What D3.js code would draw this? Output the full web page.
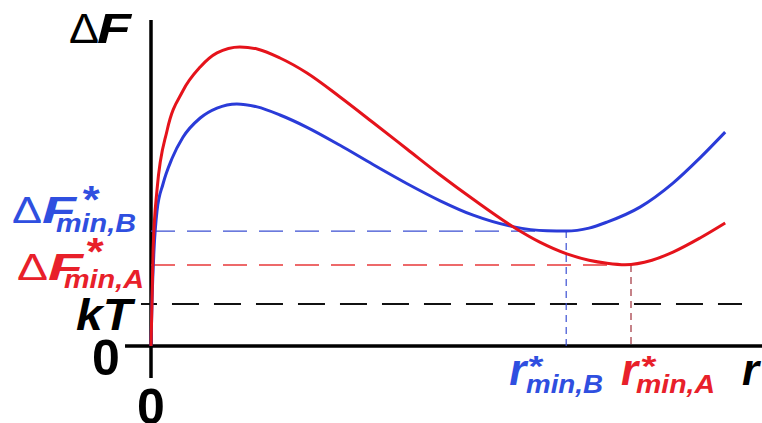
<!DOCTYPE html>
<html>
<head>
<meta charset="utf-8">
<script src="https://cdn.jsdelivr.net/npm/d3@7"></script>
<style>
  html, body { margin: 0; padding: 0; background: #fff; }
  svg { display: block; }
</style>
</head>
<body>
<svg id="chart" width="762" height="423"></svg>
<script>
// ---- data (arbitrary units) ----
const rA = [0, 0.17, 0.35, 1, 2.7, 5.3, 8.2, 11, 14.8, 17.7, 21.5, 26, 31.5, 37, 42.7, 48.2, 53.7, 61, 64.8, 69.3, 73, 76, 79, 83.5, 87, 91.5, 95.7];
const fA = [0, 15, 32, 52, 72, 85, 93, 97.7, 99.7, 99, 96, 91, 83, 74.5, 65.6, 57.0, 48.9, 38.9, 34.6, 30.7, 28.6, 27.6, 27.1, 28.6, 31.3, 36, 41];
const rB = [0, 0.17, 0.5, 1, 2, 3.5, 5.3, 8.2, 11, 14.3, 17.7, 21.5, 26, 31.5, 37, 42.7, 48.2, 53.7, 60.3, 66, 69.2, 73, 76, 81.5, 87, 91.5, 95.7];
const fB = [0, 15, 32, 45, 54, 62.5, 69.5, 76, 79.3, 80.7, 79.7, 77, 72.9, 66.9, 60.5, 54.1, 48.4, 43.6, 39.8, 38.4, 38.3, 39.3, 41.3, 46.3, 54.3, 62.7, 71.3];
const kT = 14;
const minA = 27.0, rMinA = 80;
const minB = 38.3, rMinB = 69.2;
const yTickLabels = ["0", "kT"];
const xTickLabels = ["0"];

const red = "#e5131b", blue = "#2a3bd8";
const redLbl = "#e8202a", blueLbl = "#2f4fe0";

const svg = d3.select("#chart");
svg.append("rect").attr("width", 762).attr("height", 423).attr("fill", "#fff");

const x = d3.scaleLinear().domain([0, 100]).range([151, 751]);
const y = d3.scaleLinear().domain([0, 100]).range([346, 46]);

// axes
svg.append("line").attr("x1", x(-4.33)).attr("x2", 762).attr("y1", y(0)).attr("y2", y(0))
  .attr("stroke", "#000").attr("stroke-width", 3.5);
svg.append("line").attr("x1", x(0)).attr("x2", x(0)).attr("y1", y(-10.7)).attr("y2", y(108.7))
  .attr("stroke", "#000").attr("stroke-width", 3.5);

// dashed reference lines
svg.append("line").attr("x1", x(-1.67)).attr("x2", x(98.5)).attr("y1", y(kT)).attr("y2", y(kT))
  .attr("stroke", "#111").attr("stroke-width", 2).attr("stroke-dasharray", "27,15").attr("stroke-dashoffset", 11);
svg.append("line").attr("x1", x(0)).attr("x2", x(rMinB)).attr("y1", y(minB)).attr("y2", y(minB))
  .attr("stroke", "#3b4fd2").attr("stroke-width", 1.4).attr("stroke-dasharray", "24,12");
svg.append("line").attr("x1", x(0)).attr("x2", x(rMinA)).attr("y1", y(minA)).attr("y2", y(minA))
  .attr("stroke", "#e8383a").attr("stroke-width", 1.4).attr("stroke-dasharray", "24,12");
svg.append("line").attr("x1", x(rMinB)).attr("x2", x(rMinB)).attr("y1", y(minB)).attr("y2", y(0))
  .attr("stroke", "#3b4fd2").attr("stroke-width", 1.2).attr("stroke-dasharray", "7,5");
svg.append("line").attr("x1", x(rMinA)).attr("x2", x(rMinA)).attr("y1", y(minA)).attr("y2", y(0))
  .attr("stroke", "#a0303a").attr("stroke-width", 1.2).attr("stroke-dasharray", "7,5");

// curves
const line = d3.line().x(d => x(d[0])).y(d => y(d[1])).curve(d3.curveMonotoneX);
svg.append("path").datum(d3.zip(rB, fB)).attr("d", line)
  .attr("fill", "none").attr("stroke", blue).attr("stroke-width", 3);
svg.append("path").datum(d3.zip(rA, fA)).attr("d", line)
  .attr("fill", "none").attr("stroke", red).attr("stroke-width", 3);

// text helper
const FF = "'Liberation Sans', Arial, sans-serif";
function txt(t, px, py, opts) {
  const o = Object.assign({size: 40, weight: "bold", style: "italic", fill: "#000", anchor: "start"}, opts || {});
  const el = svg.append("text").attr("x", px).attr("y", py).text(t)
    .attr("font-family", FF).attr("font-size", o.size).attr("font-weight", o.weight)
    .attr("font-style", o.style).attr("fill", o.fill).attr("text-anchor", o.anchor);
  if (o.len) el.attr("textLength", o.len).attr("lengthAdjust", "spacingAndGlyphs");
  return el;
}

// axis title ΔF
txt("Δ", 69, 43, {size: 42, weight: "normal", style: "normal", len: 30});
txt("F", 97, 43, {size: 42, len: 34});

// y tick labels
txt(yTickLabels[0], 106, 375, {size: 50, style: "normal", anchor: "middle"});
txt(yTickLabels[1], 76, 330, {size: 44, len: 56});
// x tick label
txt(xTickLabels[0], x(0), 424, {size: 50, style: "normal", anchor: "middle"});

// ΔF*min,B
txt("Δ", 12, 223, {size: 36, weight: "normal", style: "normal", fill: blueLbl, len: 30});
txt("F", 42, 223, {size: 36, fill: blueLbl, len: 34});
txt("*", 81, 213, {size: 38, fill: blueLbl, len: 17});
txt("min,B", 56, 232, {size: 26, fill: blueLbl, len: 80});

// ΔF*min,A
txt("Δ", 17, 280, {size: 37, weight: "normal", style: "normal", fill: redLbl, len: 31});
txt("F", 48, 280, {size: 37, fill: redLbl, len: 35});
txt("*", 85, 265, {size: 38, fill: redLbl, len: 17});
txt("min,A", 64, 288, {size: 26, fill: redLbl, len: 80});

// r*min,B
txt("r", x(rMinB) - 57, 385, {size: 44, fill: blueLbl, len: 17});
txt("*", 527, 376, {size: 30, fill: blueLbl, len: 15});
txt("min,B", 526, 393, {size: 25, fill: blueLbl, len: 77});

// r*min,A
txt("r", 621, 385, {size: 44, fill: redLbl, len: 17});
txt("*", 640, 376, {size: 30, fill: redLbl, len: 15});
txt("min,A", 636, 393, {size: 25, fill: redLbl, len: 79});

// axis title r
txt("r", 742, 385, {size: 44, len: 17});
</script>
</body>
</html>
